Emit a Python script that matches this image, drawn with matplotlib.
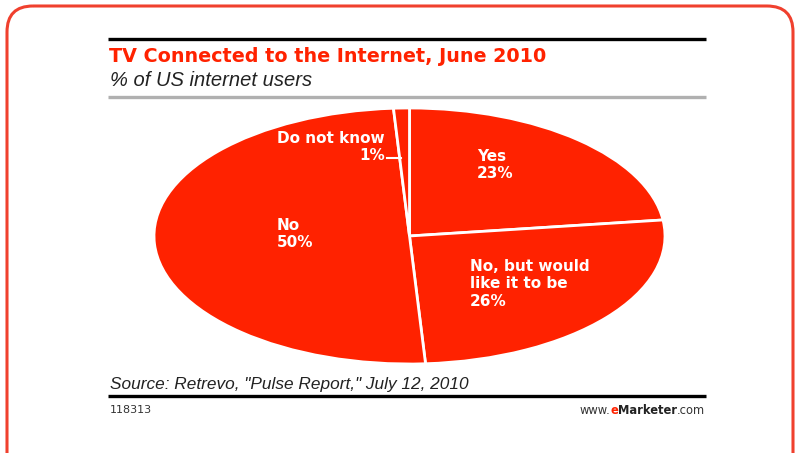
import matplotlib
matplotlib.use("Agg")
import matplotlib.pyplot as plt
from matplotlib.patches import FancyBboxPatch
from matplotlib.offsetbox import TextArea, HPacker, AnnotationBbox

# ─── Data ───
labels = ["Yes", "No, but would\nlike it to be", "No", "Do not know"]
shares = [23, 26, 50, 1]

RED = "#FF2200"
W, H = 799, 453

fig = plt.figure(figsize=(W / 100, H / 100), dpi=100)
fig.patch.set_facecolor("white")

# elliptical pie (added first so the overlay text sits on top)
pie_ax = fig.add_axes([154 / W, (H - 364) / H, 511 / W, 256 / H])
pie_ax.pie(shares, startangle=90, counterclock=False, colors=[RED] * len(shares),
           wedgeprops=dict(edgecolor="white", linewidth=2))
pie_ax.set_aspect("auto")
pie_ax.set_xlim(-1.0, 1.0)
pie_ax.set_ylim(-1.0, 1.0)

# overlay in pixel coordinates (y grows downward)
ov = fig.add_axes([0, 0, 1, 1])
ov.set_xlim(0, W)
ov.set_ylim(H, 0)
ov.axis("off")

# rounded frame
frame = FancyBboxPatch((7, 6), 786, 475, boxstyle="round,pad=0,rounding_size=26",
                       facecolor="none", edgecolor="#F0402E", linewidth=2.2, zorder=1)
ov.add_patch(frame)

# rules
ov.plot([108, 706], [38.5, 38.5], color="black", linewidth=2.4, solid_capstyle="butt")
ov.plot([108, 706], [97, 97], color="#B0B0B0", linewidth=2.4, solid_capstyle="butt")
ov.plot([108, 706], [396, 396], color="black", linewidth=2.4, solid_capstyle="butt")

# titles
ov.text(109, 56, "TV Connected to the Internet, June 2010", color=RED,
        fontsize=13.8, fontweight="bold", family="DejaVu Sans", va="center", ha="left")
ov.text(110, 81, "% of US internet users", color="#222222", fontsize=14.5,
        style="italic", family="Liberation Sans", va="center", ha="left")
ov.text(110, 384, "Source: Retrevo, \"Pulse Report,\" July 12, 2010", color="#222222",
        fontsize=12.4, style="italic", family="Liberation Sans", va="center", ha="left")
ov.text(110, 410, "118313", color="#333333", fontsize=8, family="DejaVu Sans",
        va="center", ha="left")

# www.eMarketer.com
parts = [TextArea("www.", textprops=dict(color="#333333", fontsize=8.3, family="DejaVu Sans")),
         TextArea("e", textprops=dict(color=RED, fontsize=8.3, fontweight="bold", family="DejaVu Sans")),
         TextArea("Marketer", textprops=dict(color="#222222", fontsize=8.3, fontweight="bold", family="DejaVu Sans")),
         TextArea(".com", textprops=dict(color="#333333", fontsize=8.3, family="DejaVu Sans"))]
pack = HPacker(children=parts, pad=0, sep=0, align="baseline")
ov.add_artist(AnnotationBbox(pack, (705, 410), xycoords="data", box_alignment=(1, 0.5),
                             frameon=False, pad=0))

# slice labels
txt = dict(color="white", fontsize=11, fontweight="bold", family="DejaVu Sans",
           va="top", linespacing=1.2, zorder=5)
ov.text(477, 149, f"{labels[0]}\n{shares[0]}%", ha="left", **txt)
ov.text(470, 259, f"{labels[1]}\n{shares[1]}%", ha="left", **txt)
ov.text(277, 218, f"{labels[2]}\n{shares[2]}%", ha="left", **txt)
ov.text(385, 131, f"{labels[3]}\n{shares[3]}%", ha="right", multialignment="right", **txt)
ov.plot([387, 401], [158, 158], color="white", linewidth=1.5, zorder=5)

fig.savefig("out.png", dpi=100, facecolor="white")
